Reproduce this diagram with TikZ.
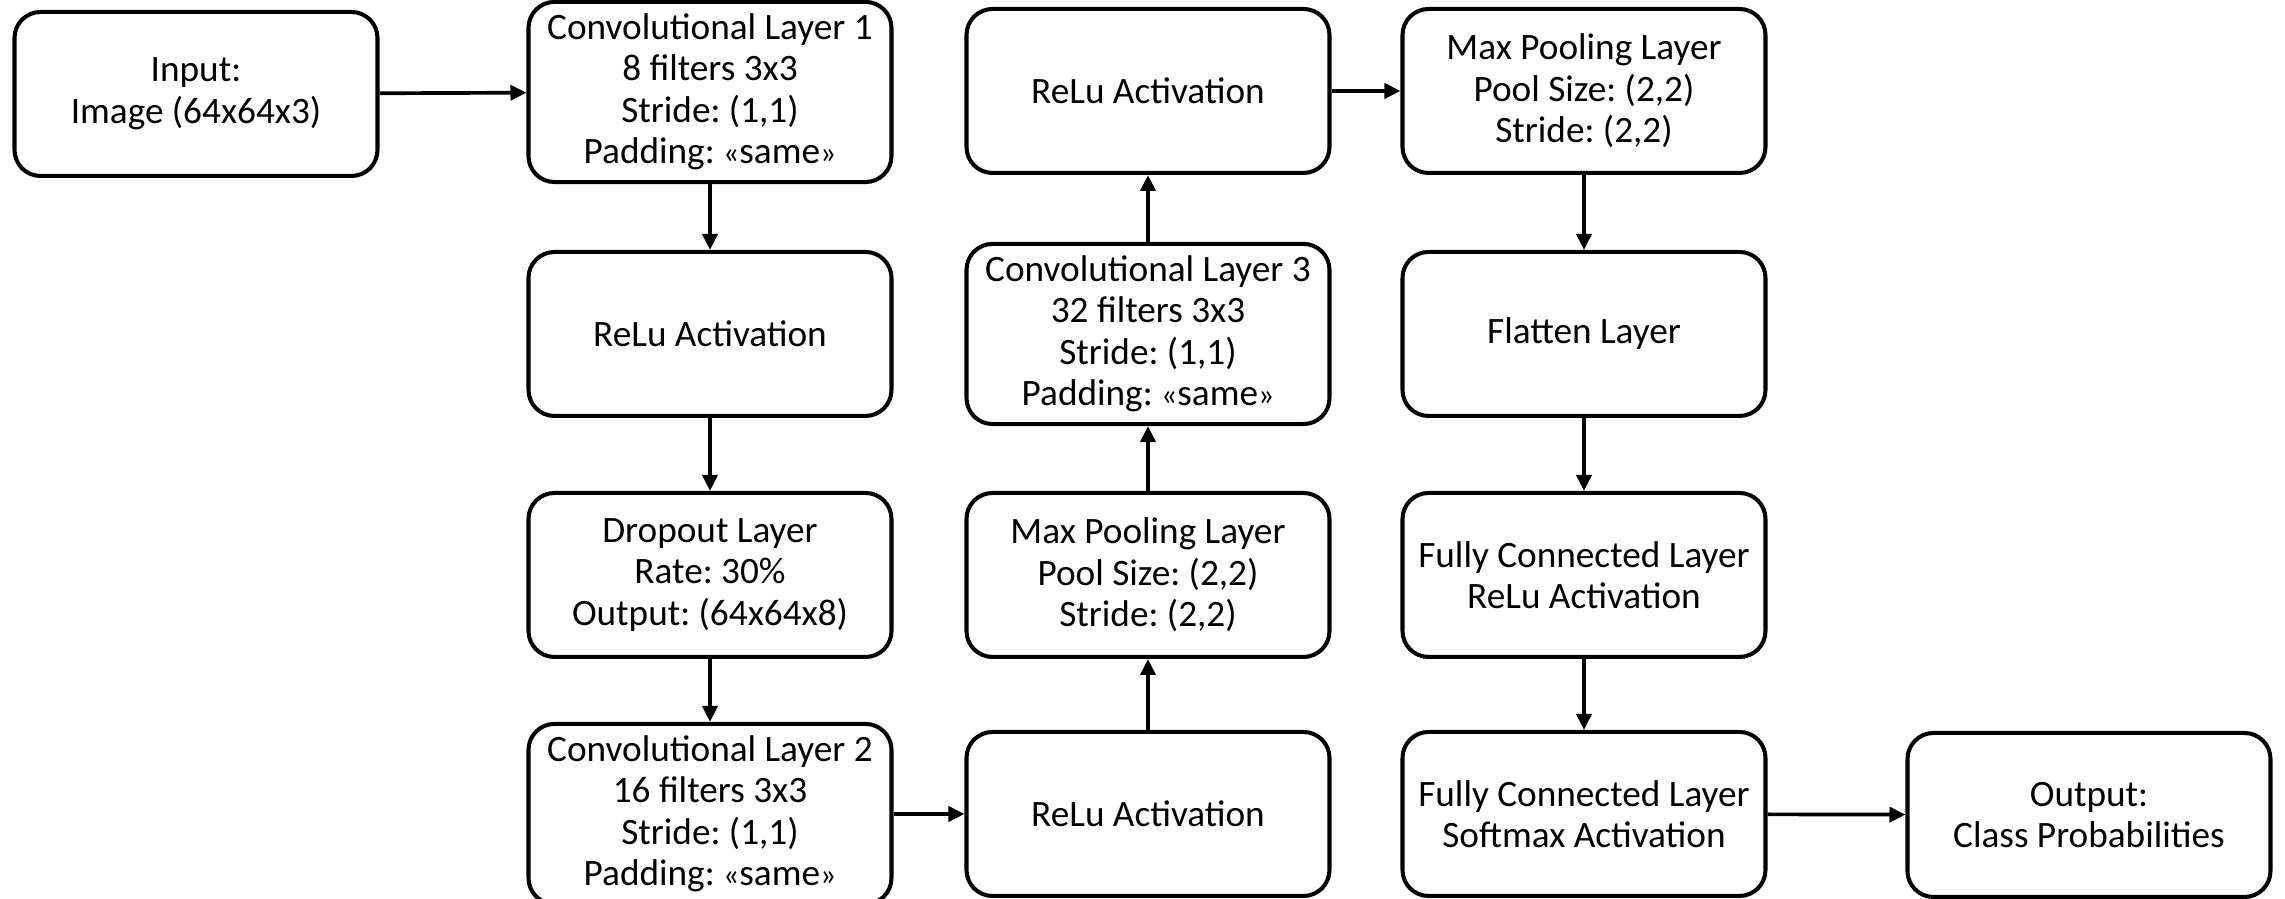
\documentclass[tikz,border=0pt]{standalone}
\usepackage{fontspec}
\setmainfont{Carlito}
\frenchspacing
\usetikzlibrary{arrows.meta}

\tikzstyle{layer} = [draw, line width=1.15pt, rounded corners=0.26cm, minimum width=3.63cm, minimum height=1.64cm, align=center, font=\fontsize{10.6pt}{11.8pt}\selectfont]
\tikzstyle{arrow} = [line width=1.05pt, ->, >={Triangle[length=0.16cm,width=0.15cm]}]

\begin{document}
\begin{tikzpicture}
			\useasboundingbox (0,0) rectangle (22.85,8.99);
			% columns at 1.96 / 7.10 / 11.48 / 15.84 / 20.89
			\node[layer] (input) at (1.96,8.05) {Input:\\Image (64x64x3)};
			\node[layer] (conv1) at (7.10,8.07) {Convolutional Layer 1\\8 filters 3x3\\Stride: (1,1)\\Padding: {\small«}same{\small»}};
			\node[layer] (relu1) at (7.10,5.65) {ReLu Activation};
			\node[layer] (drop) at (7.10,3.24) {Dropout Layer\\Rate: 30\%\\Output: (64x64x8)};
			\node[layer] (conv2) at (7.10,0.85) {Convolutional Layer 2\\16 filters 3x3\\Stride: (1,1)\\Padding: {\small«}same{\small»}};
			\node[layer] (relu2) at (11.48,0.85) {ReLu Activation};
			\node[layer] (pool1) at (11.48,3.24) {Max Pooling Layer\\Pool Size: (2,2)\\Stride: (2,2)};
			\node[layer] (conv3) at (11.48,5.65) {Convolutional Layer 3\\32 filters 3x3\\Stride: (1,1)\\Padding: {\small«}same{\small»}};
			\node[layer] (relu3) at (11.48,8.08) {ReLu Activation};
			\node[layer] (pool2) at (15.84,8.08) {Max Pooling Layer\\Pool Size: (2,2)\\Stride: (2,2)};
			\node[layer] (flat) at (15.84,5.65) {Flatten Layer};
			\node[layer] (fc1) at (15.84,3.24) {Fully Connected Layer\\ReLu Activation};
			\node[layer] (fc2) at (15.84,0.85) {Fully Connected Layer\\Softmax Activation};
			\node[layer] (output) at (20.89,0.84) {Output:\\Class Probabilities};

			% data flow
			\draw[arrow] (input) -- (conv1);
			\draw[arrow] (conv1) -- (relu1);
			\draw[arrow] (relu1) -- (drop);
			\draw[arrow] (drop) -- (conv2);
			\draw[arrow] (conv2) -- (relu2);
			\draw[arrow] (relu2) -- (pool1);
			\draw[arrow] (pool1) -- (conv3);
			\draw[arrow] (conv3) -- (relu3);
			\draw[arrow] (relu3) -- (pool2);
			\draw[arrow] (pool2) -- (flat);
			\draw[arrow] (flat) -- (fc1);
			\draw[arrow] (fc1) -- (fc2);
			\draw[arrow] (fc2) -- (output);
\end{tikzpicture}
\end{document}
